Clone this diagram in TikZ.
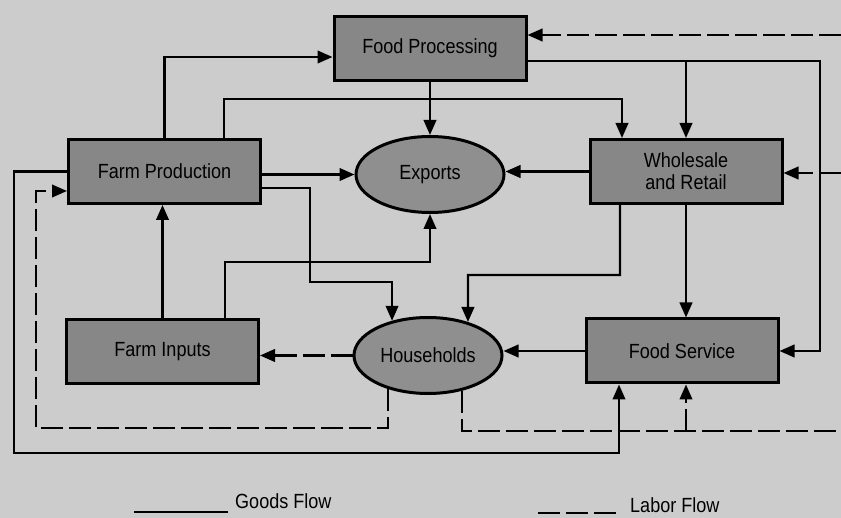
\documentclass[tikz,border=0pt]{standalone}
\usepackage{fontspec}
\setmainfont{Liberation Sans}[FakeStretch=0.88]
\usetikzlibrary{arrows.meta, shapes.geometric, calc}

\definecolor{paper}{gray}{0.80}
\definecolor{sectorgray}{gray}{0.53}
\definecolor{marketgray}{gray}{0.56}

\tikzset{
  sector/.style={draw, line width=3pt, fill=sectorgray, minimum width=192pt, minimum height=64pt, inner sep=0pt, align=center, font=\fontsize{20.5}{22}\selectfont},
  market/.style={ellipse, draw, line width=3pt, fill=marketgray, minimum width=148pt, minimum height=76pt, inner sep=0pt, font=\fontsize{20.5}{22}\selectfont},
  flowline/.style={line width=2.4pt},
  goods/.style={flowline, -{Triangle[length=15pt,width=12.5pt]}},
  laborline/.style={flowline, dash pattern=on 22pt off 6pt},
  labor/.style={goods, laborline},
  keytext/.style={anchor=west, inner sep=0pt, font=\fontsize{20.5}{22}\selectfont}
}

\begin{document}
\begin{tikzpicture}[x=1pt, y=-1pt]
      \path[use as bounding box, fill=paper] (0,0) rectangle (841,518);

      \node[sector] (proc) at (430,48.5) {Food Processing};
      \node[sector] (farm) at (164.5,171.5) {Farm Production};
      \node[market] (exp) at (430,174.5) {Exports};
      \node[sector] (whole) at (686,171.5) {Wholesale\\and Retail};
      \node[sector] (inputs) at (162.5,351.5) {Farm Inputs};
      \node[market] (house) at (428,355.5) {Households};
      \node[sector] (serv) at (682,351) {Food Service};

      \coordinate (edgeA) at (841,35);
      \coordinate (edgeB) at (841,173);
      \coordinate (edgeC) at (841,431);

      \draw[goods] (farm.north) |- (proc.west |- 0,57);
      \draw[goods] (farm.north -| 224,0) |- (622,99) -- (whole.north -| 622,0);
      \draw[goods] (proc.south) -- (exp.north);
      \draw[goods] (proc.east |- 0,61) -| (serv.east -| 820,0) -- (serv.east);
      \draw[goods] (whole.north |- 0,61) -- (whole.north);
      \draw[goods] (farm.east |- exp.west) -- (exp.west);
      \draw[goods] (farm.east |- 0,188) -| (310,282) -| (house.136);
      \draw[goods] (whole.south -| 620,0) |- (468,275) -- (house.40);
      \draw[goods] (whole.south) -- (whole.south |- serv.north);
      \draw[goods] (whole.west) -- (exp.east |- whole.west);
      \draw[goods] (inputs.north) -- (inputs.north |- farm.south);
      \draw[goods] (inputs.north -| 225,0) |- (430,262) -- (exp.south);
      \draw[goods] (serv.west) -- (house.east |- serv.west);
      \draw[goods] (farm.west) -| (14,453) -| (serv.south -| 619,0);

      \draw[labor] (edgeA) -- (proc.east |- edgeA);
      \draw[labor] (edgeB) -- (whole.east |- edgeB);
      \draw[labor] (house.west) -- (inputs.east |- house.west);
      \draw[labor] (house.220) |- (36,428) |- (farm.west |- 0,191);
      \draw[laborline] (house.314) |- (edgeC);
      \draw[labor] (whole.south |- edgeC) -- (whole.south |- serv.south);

      \coordinate (goodsA) at (134,512);
      \coordinate (goodsB) at (228,512);
      \draw[flowline] (goodsA) -- (goodsB);
      \node[keytext] (goodskey) at (235,501) {Goods Flow};
      \coordinate (laborA) at (538,513);
      \coordinate (laborB) at (621,513);
      \draw[laborline] (laborA) -- (laborB);
      \node[keytext] (laborkey) at (630,505) {Labor Flow};
    \end{tikzpicture}
\end{document}
